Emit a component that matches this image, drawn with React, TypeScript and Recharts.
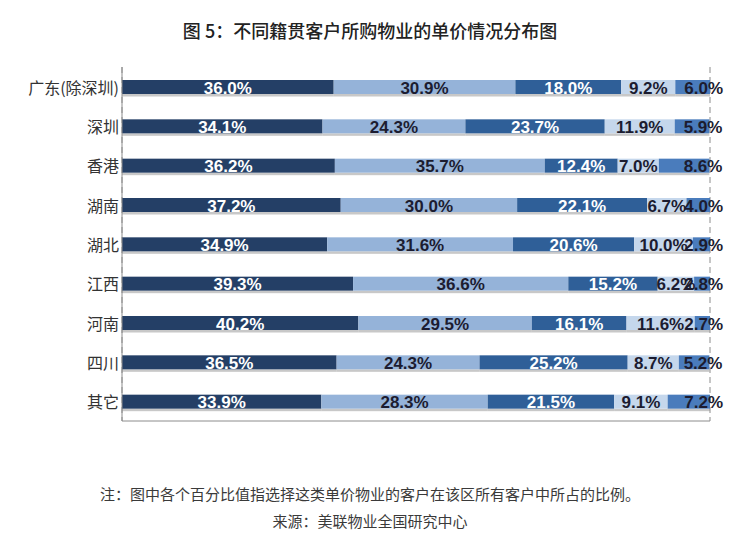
import React from "react";
import { BarChart, Bar, XAxis, YAxis, CartesianGrid, LabelList } from "recharts";

const categories = ["广东(除深圳)", "深圳", "香港", "湖南", "湖北", "江西", "河南", "四川", "其它"];
const seriesA = [36.0, 34.1, 36.2, 37.2, 34.9, 39.3, 40.2, 36.5, 33.9];
const seriesB = [30.9, 24.3, 35.7, 30.0, 31.6, 36.6, 29.5, 24.3, 28.3];
const seriesC = [18.0, 23.7, 12.4, 22.1, 20.6, 15.2, 16.1, 25.2, 21.5];
const seriesD = [9.2, 11.9, 7.0, 6.7, 10.0, 6.2, 11.6, 8.7, 9.1];
const seriesE = [6.0, 5.9, 8.6, 4.0, 2.9, 2.8, 2.7, 5.2, 7.2];
const xTicks = [0, 10, 20, 30, 40, 50, 60, 70, 80, 90, 100];

const title = "图 5：不同籍贯客户所购物业的单价情况分布图";
const note = "注：图中各个百分比值指选择这类单价物业的客户在该区所有客户中所占的比例。";
const source = "来源：美联物业全国研究中心";

const data = categories.map((name, i) => ({
  name,
  a: seriesA[i],
  b: seriesB[i],
  c: seriesC[i],
  d: seriesD[i],
  e: seriesE[i],
}));

const series = [
  { key: "a", fill: "#243f66", text: "#ffffff" },
  { key: "b", fill: "#95b3d9", text: "#1c1c30" },
  { key: "c", fill: "#2f5f98", text: "#ffffff" },
  { key: "d", fill: "#c5d7ec", text: "#1c1c30" },
  { key: "e", fill: "#4a7cbc", text: "#1c1c30" },
];

const ShadowBar = (props: any) => {
  const { x, y, width, height, fill } = props;
  if (width == null || height == null) return null;
  return (
    <g>
      <rect x={x} y={y + height} width={width} height={2.5} fill="#9a9a9a" opacity={0.55} />
      <rect x={x} y={y} width={width} height={height} fill={fill} />
    </g>
  );
};

const makeLabel = (color: string, last: boolean) => (props: any) => {
  const { x, y, width, height, value } = props;
  const cx = last ? x + width + 13 : x + width / 2;
  return (
    <text
      x={cx}
      y={y + height / 2 + 1}
      textAnchor={last ? "end" : "middle"}
      dominantBaseline="central"
      fill={color}
      fontFamily="'Liberation Sans', Arial, sans-serif"
      fontWeight="bold"
      fontSize={17}
    >
      {Number(value).toFixed(1)}%
    </text>
  );
};

const CatTick = (props: any) => {
  const { y, payload } = props;
  return (
    <text
      x={119}
      y={y}
      textAnchor="end"
      dominantBaseline="central"
      fill="#333333"
      fontFamily="'Noto Sans CJK SC', sans-serif"
      fontSize={16}
    >
      {payload.value}
    </text>
  );
};

export default function App() {
  return (
    <div style={{ position: "absolute", left: 0, top: 0, width: 740, height: 543, background: "#ffffff" }}>
      <div
        style={{
          position: "absolute",
          top: 17,
          left: 0,
          width: 740,
          textAlign: "center",
          fontFamily: "'Noto Sans CJK SC', sans-serif",
          fontSize: 18,
          fontWeight: 500,
          color: "#222222",
          lineHeight: "26px",
        }}
      >
        {title}
      </div>
      <BarChart
        width={740}
        height={543}
        data={data}
        layout="vertical"
        barCategoryGap={0}
        margin={{ top: 67, right: 30, bottom: 121, left: 0 }}
      >
        <CartesianGrid horizontal={false} vertical={true} strokeDasharray="6 4" stroke="#8c8c8c" strokeWidth={1} />
        <XAxis
          type="number"
          domain={[0, 100]}
          ticks={xTicks}
          tick={false}
          tickLine={false}
          axisLine={{ stroke: "#8c8c8c" }}
          height={1}
          allowDataOverflow
        />
        <YAxis
          type="category"
          dataKey="name"
          width={122}
          tickLine={false}
          axisLine={{ stroke: "#8c8c8c" }}
          tick={<CatTick />}
          interval={0}
        />
        {series.map((s, i) => (
          <Bar
            key={s.key}
            dataKey={s.key}
            stackId="s"
            fill={s.fill}
            barSize={14}
            shape={<ShadowBar />}
            isAnimationActive={false}
          >
            <LabelList dataKey={s.key} content={makeLabel(s.text, i === series.length - 1)} />
          </Bar>
        ))}
      </BarChart>
      <div
        style={{
          position: "absolute",
          top: 483,
          left: 0,
          width: 740,
          textAlign: "center",
          fontFamily: "'Noto Sans CJK SC', sans-serif",
          fontSize: 15,
          color: "#3a3a3a",
          lineHeight: "22px",
        }}
      >
        {note}
      </div>
      <div
        style={{
          position: "absolute",
          top: 510,
          left: 0,
          width: 740,
          textAlign: "center",
          fontFamily: "'Noto Sans CJK SC', sans-serif",
          fontSize: 15,
          color: "#3a3a3a",
          lineHeight: "22px",
        }}
      >
        {source}
      </div>
    </div>
  );
}
